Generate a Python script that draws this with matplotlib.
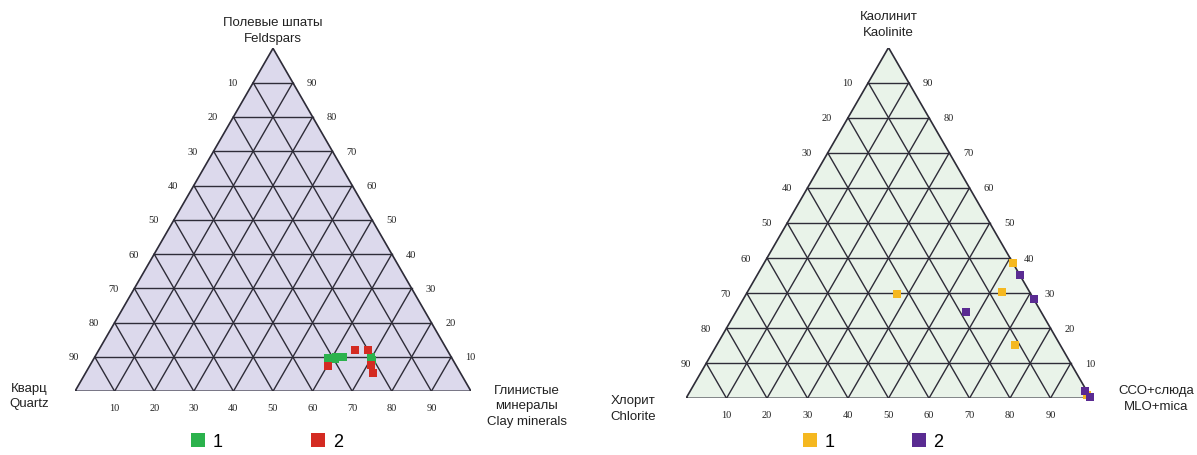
import numpy as np
import matplotlib
matplotlib.use("Agg")
import matplotlib.pyplot as plt
from matplotlib.lines import Line2D

# left diagram: quartz / feldspars / clay minerals, % per sample
qfc_1_quartz = [31.3, 30.2, 29.1, 28.0, 27.3, 29.6, 20.3, 20.4]
qfc_1_feldspar = [9.6, 9.8, 10.0, 10.1, 10.1, 9.4, 9.9, 9.1]
qfc_1_clay = [59.1, 60.0, 60.9, 61.9, 62.6, 61.0, 69.8, 70.5]

qfc_2_quartz = [32.4, 23.3, 19.9, 21.3, 22.2]
qfc_2_feldspar = [7.3, 12.0, 12.0, 7.8, 5.3]
qfc_2_clay = [60.3, 64.7, 68.1, 70.9, 72.5]

# right diagram: chlorite / kaolinite / MLO+mica, % per sample
ckm_1_chlorite = [0.0, 33.1, 6.7, 11.2, 0.6]
ckm_1_kaolinite = [38.5, 29.7, 30.4, 15.2, 0.9]
ckm_1_mlo = [61.5, 37.2, 62.9, 73.6, 98.5]

ckm_2_chlorite = [0.0, 0.0, 18.6, 0.4, 0.0]
ckm_2_kaolinite = [35.1, 28.3, 24.5, 2.0, 0.5]
ckm_2_mlo = [64.9, 71.7, 56.9, 97.6, 99.5]

tick_values = [10, 20, 30, 40, 50, 60, 70, 80, 90]
legend_labels = ["1", "2"]

H = np.sqrt(3) / 2
LINE = "#2e2c38"
SERIF = ["Liberation Serif", "DejaVu Serif"]
SANS = ["Liberation Sans", "DejaVu Sans"]


def tern(right, top):
    right = np.asarray(right, dtype=float)
    top = np.asarray(top, dtype=float)
    return right + top / 2, top * H


def draw_triangle(ax, face):
    x, y = tern([0, 100, 0, 0], [0, 0, 100, 0])
    ax.fill(x, y, color=face, zorder=0)
    for v in tick_values:
        # constant top component
        ax.plot(*tern([0, 100 - v], [v, v]), color=LINE, lw=1.0, zorder=1)
        # constant right component
        ax.plot(*tern([v, v], [0, 100 - v]), color=LINE, lw=1.0, zorder=1)
        # constant left component
        ax.plot(*tern([100 - v, 0], [0, 100 - v]), color=LINE, lw=1.0, zorder=1)
    ax.plot(x, y, color=LINE, lw=1.2, zorder=1, solid_joinstyle="miter")

    tk = dict(fontsize=7.5, family=SERIF, textcoords="offset points",
              ha="center", va="center", color="#222222")
    for v in tick_values:
        ax.annotate(str(v), tern(0, 100 - v), xytext=(-15, 0), **tk)
        ax.annotate(str(v), tern(100 - v, v), xytext=(14, 0), **tk)
        ax.annotate(str(v), tern(v, 0), xytext=(0, -12), **tk)

    ax.set_xlim(0, 100)
    ax.set_ylim(0, 100 * H)
    ax.set_aspect("equal")
    ax.axis("off")


fig = plt.figure(figsize=(11.97, 4.56), dpi=100)
W, Hp = 1197, 456

# left diagram
axl = fig.add_axes([75 / W, (Hp - 392.3) / Hp, 396 / W, 343 / Hp])
draw_triangle(axl, "#dcd9ec")
axl.scatter(*tern(qfc_1_clay, qfc_1_feldspar), marker="s", s=26,
            color="#2bb24c", zorder=3, clip_on=False, linewidths=0)
axl.scatter(*tern(qfc_2_clay, qfc_2_feldspar), marker="s", s=26,
            color="#d42b22", zorder=3, clip_on=False, linewidths=0)
lab = dict(fontsize=9.5, family=SANS, ha="center", va="center",
           color="#222222", linespacing=1.4)
axl.annotate("Полевые шпаты\nFeldspars", tern(0, 100), xytext=(0, 13),
             textcoords="offset points", **lab)
axl.annotate("Кварц\nQuartz", tern(0, 0), xytext=(-33, -3),
             textcoords="offset points", **lab)
axl.annotate("Глинистые\nминералы\nClay minerals", tern(100, 0),
             xytext=(40, -10), textcoords="offset points", **lab)

# right diagram
axr = fig.add_axes([686 / W, (Hp - 399.3) / Hp, 405 / W, 350.7 / Hp])
draw_triangle(axr, "#e9f3e9")
axr.scatter(*tern(ckm_1_mlo, ckm_1_kaolinite), marker="s", s=26,
            color="#f5b820", zorder=3, clip_on=False, linewidths=0)
axr.scatter(*tern(ckm_2_mlo, ckm_2_kaolinite), marker="s", s=26,
            color="#5a2b92", zorder=3, clip_on=False, linewidths=0)
axr.annotate("Каолинит\nKaolinite", tern(0, 100), xytext=(0, 17),
             textcoords="offset points", **lab)
axr.annotate("Хлорит\nChlorite", tern(0, 0), xytext=(-38, -7),
             textcoords="offset points", **lab)
axr.annotate("ССО+слюда\nMLO+mica", tern(100, 0), xytext=(47, 0),
             textcoords="offset points", **lab)


def square(c):
    return Line2D([], [], marker="s", ls="none", markersize=10,
                  markerfacecolor=c, markeredgewidth=0)


leg = dict(ncol=2, frameon=False, handlelength=0.8, handletextpad=0.4,
           prop={"family": SANS, "size": 13},
           loc="center", bbox_transform=fig.transFigure)
fig.legend([square("#2bb24c"), square("#d42b22")], legend_labels,
           bbox_to_anchor=(267 / W, (Hp - 443) / Hp), columnspacing=4.9, **leg)
fig.legend([square("#f5b820"), square("#5a2b92")], legend_labels,
           bbox_to_anchor=(873 / W, (Hp - 443) / Hp), columnspacing=4.3, **leg)

fig.savefig("out.png", dpi=100)
